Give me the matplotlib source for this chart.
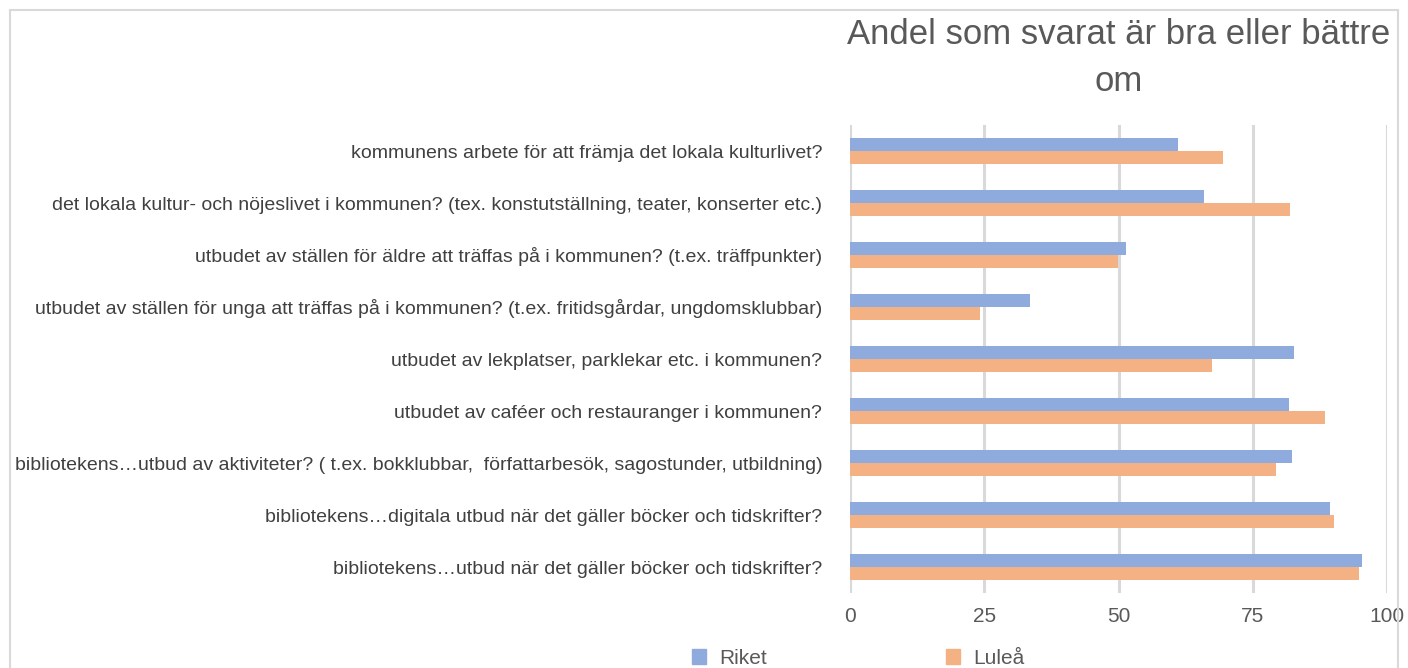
import matplotlib
matplotlib.use("Agg")
import matplotlib.pyplot as plt
from matplotlib import font_manager
from matplotlib.patches import Rectangle, Patch

categories = [
    "kommunens arbete för att främja det lokala kulturlivet?",
    "det lokala kultur- och nöjeslivet i kommunen? (tex. konstutställning, teater, konserter etc.)",
    "utbudet av ställen för äldre att träffas på i kommunen? (t.ex. träffpunkter)",
    "utbudet av ställen för unga att träffas på i kommunen? (t.ex. fritidsgårdar, ungdomsklubbar)",
    "utbudet av lekplatser, parklekar etc. i kommunen?",
    "utbudet av caféer och restauranger i kommunen?",
    "bibliotekens…utbud av aktiviteter? ( t.ex. bokklubbar,  författarbesök, sagostunder, utbildning)",
    "bibliotekens…digitala utbud när det gäller böcker och tidskrifter?",
    "bibliotekens…utbud när det gäller böcker och tidskrifter?",
]
riket = [61.0, 66.0, 51.4, 33.6, 82.7, 81.8, 82.4, 89.3, 95.3]
lulea = [69.4, 81.9, 49.9, 24.2, 67.4, 88.4, 79.4, 90.2, 94.8]
series_names = ["Riket", "Luleå"]
xticks = [0, 25, 50, 75, 100]
title = "Andel som svarat är bra eller bättre\nom"

available = {f.name for f in font_manager.fontManager.ttflist}
narrow = "Liberation Sans Narrow" if "Liberation Sans Narrow" in available else "Liberation Sans"
plt.rcParams['font.family'] = [narrow, 'DejaVu Sans']

c_riket = "#8FAADC"
c_lulea = "#F4B183"
text_c = "#404040"
tick_c = "#595959"
grid_c = "#D9D9D9"

fig = plt.figure(figsize=(14.08, 6.68), dpi=100)
ax = fig.add_axes([850/1408, 1-593/668, (1387-850)/1408, (593-125)/668])

y = list(range(len(categories)))
h = 0.245
ax.barh([v - h/2 for v in y], riket, height=h, color=c_riket, label=series_names[0])
ax.barh([v + h/2 for v in y], lulea, height=h, color=c_lulea, label=series_names[1])
ax.set_ylim(len(categories) - 0.5, -0.5)
ax.set_xlim(0, 100)
ax.set_xticks(xticks)
ax.set_xticklabels([str(t) for t in xticks], fontsize=15, color=tick_c)
ax.set_yticks(y)
ax.set_yticklabels(categories, fontsize=14.0, color=text_c)
ax.tick_params(axis='both', length=0)
ax.tick_params(axis='y', pad=20)
ax.tick_params(axis='x', pad=10)
for s in ax.spines.values():
    s.set_visible(False)
ax.grid(axis='x', color=grid_c, linewidth=2.2)
ax.set_axisbelow(True)
ax.axvline(0, color=grid_c, linewidth=2.2, zorder=0)

fig.text((850+1387)/2/1408, 1-58/668, title, ha='center', va='center',
         fontsize=25, color=tick_c, linespacing=1.55)

handles = [Patch(color=c_riket), Patch(color=c_lulea)]
fig.legend(handles, series_names, loc='center', bbox_to_anchor=(858/1408, 1-658/668),
           ncol=2, frameon=False, fontsize=15, labelcolor=tick_c,
           handlelength=0.7, handleheight=0.7, columnspacing=8.6, handletextpad=0.6)

fig.patches.append(Rectangle((10/1408, -0.1), (1398-10)/1408, 1.1 - 10/668,
                             transform=fig.transFigure, fill=False,
                             edgecolor="#D9D9D9", linewidth=1.5))

fig.savefig("out.png", dpi=100, facecolor="white")
